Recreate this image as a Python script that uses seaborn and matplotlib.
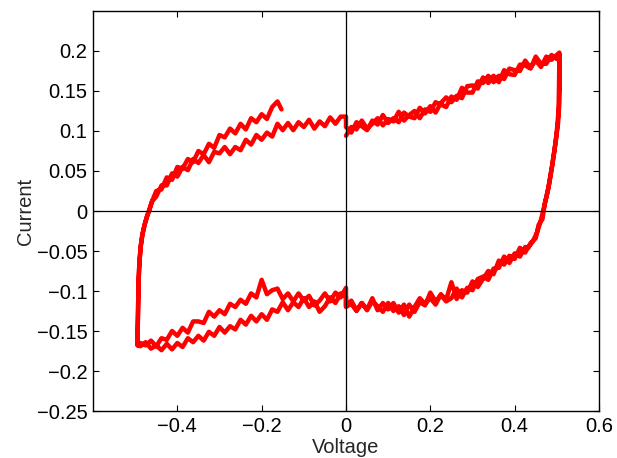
import numpy as np
import pandas as pd
import matplotlib
matplotlib.use("Agg")
import matplotlib.pyplot as plt
import seaborn as sns

# ---- data (cyclic voltammogram, two cycles) ----
# upper-right branch (shared voltage grid)
ur_v = [0.000, 0.0125, 0.025, 0.0375, 0.050, 0.0625, 0.075, 0.0875, 0.100, 0.1125,
        0.125, 0.1375, 0.150, 0.1625, 0.175, 0.1875, 0.200, 0.2125, 0.225, 0.2375,
        0.250, 0.2625, 0.275, 0.2875, 0.300, 0.3125, 0.325, 0.3375, 0.350, 0.3625,
        0.375, 0.3875, 0.400, 0.4125, 0.425, 0.4375, 0.450, 0.4625, 0.475, 0.4875,
        0.500, 0.506]
ur_i1 = [0.094, 0.105, 0.102, 0.113, 0.103, 0.109, 0.116, 0.107, 0.115, 0.112,
         0.124, 0.113, 0.120, 0.125, 0.116, 0.127, 0.124, 0.136, 0.133, 0.130,
         0.143, 0.139, 0.154, 0.148, 0.148, 0.162, 0.160, 0.169, 0.161, 0.169,
         0.165, 0.178, 0.176, 0.175, 0.188, 0.179, 0.188, 0.180, 0.193, 0.189,
         0.195, 0.198]
ur_i2 = [0.105, 0.098, 0.111, 0.106, 0.101, 0.113, 0.108, 0.120, 0.110, 0.116,
         0.111, 0.123, 0.118, 0.116, 0.129, 0.122, 0.131, 0.123, 0.135, 0.142,
         0.136, 0.144, 0.141, 0.156, 0.157, 0.153, 0.167, 0.160, 0.169, 0.161,
         0.176, 0.171, 0.170, 0.183, 0.182, 0.178, 0.193, 0.184, 0.184, 0.195,
         0.190, 0.196]

# steep right-hand descent
rd_v1 = [0.507, 0.507, 0.506, 0.503, 0.498, 0.492, 0.487, 0.482, 0.475, 0.468,
         0.461, 0.453, 0.443, 0.432]
rd_i1 = [0.185, 0.160, 0.135, 0.110, 0.089, 0.068, 0.050, 0.034, 0.017, 0.001,
         -0.014, -0.027, -0.038, -0.046]
rd_v2 = [0.506, 0.505, 0.504, 0.500, 0.495, 0.490, 0.484, 0.479, 0.471, 0.466,
         0.457, 0.450, 0.438, 0.428]
rd_i2 = [0.188, 0.150, 0.125, 0.100, 0.078, 0.060, 0.042, 0.026, 0.008, -0.010,
         -0.017, -0.034, -0.040, -0.049]

# lower-right branch
lr_v = [0.425, 0.4125, 0.400, 0.3875, 0.375, 0.3625, 0.350, 0.3375, 0.325, 0.3125,
        0.300, 0.2875, 0.275, 0.2625, 0.250, 0.2375, 0.225, 0.2125, 0.200, 0.1875,
        0.175, 0.1625, 0.150, 0.1375, 0.125, 0.1125, 0.100, 0.0875, 0.075, 0.0625,
        0.050, 0.0375, 0.025, 0.0125, 0.000]
lr_i1 = [-0.045, -0.057, -0.053, -0.065, -0.057, -0.071, -0.072, -0.086, -0.082, -0.085,
         -0.099, -0.096, -0.108, -0.097, -0.109, -0.113, -0.105, -0.113, -0.102, -0.118,
         -0.114, -0.126, -0.117, -0.130, -0.119, -0.125, -0.115, -0.126, -0.119, -0.113,
         -0.124, -0.115, -0.125, -0.116, -0.120]
lr_i2 = [-0.052, -0.046, -0.060, -0.056, -0.067, -0.062, -0.079, -0.075, -0.085, -0.095,
         -0.088, -0.102, -0.099, -0.110, -0.089, -0.111, -0.104, -0.117, -0.109, -0.116,
         -0.109, -0.120, -0.132, -0.117, -0.127, -0.115, -0.123, -0.115, -0.124, -0.109,
         -0.123, -0.115, -0.124, -0.112, -0.119]

# lower-left branch
ll_v = [0.000, -0.0125, -0.025, -0.0375, -0.050, -0.0625, -0.075, -0.0875, -0.100, -0.1125,
        -0.125, -0.1375, -0.150, -0.1625, -0.175, -0.1875, -0.200, -0.2125, -0.225, -0.2375,
        -0.250, -0.2625, -0.275, -0.2875, -0.300, -0.3125, -0.325, -0.3375, -0.350, -0.3625,
        -0.375, -0.3875, -0.400, -0.4125, -0.425, -0.4375, -0.450, -0.4625, -0.475, -0.4875]
ll_i1 = [-0.096, -0.108, -0.102, -0.113, -0.103, -0.112, -0.118, -0.106, -0.112, -0.103,
         -0.113, -0.103, -0.110, -0.097, -0.099, -0.104, -0.086, -0.108, -0.103, -0.116,
         -0.111, -0.120, -0.116, -0.129, -0.124, -0.132, -0.126, -0.140, -0.138, -0.138,
         -0.152, -0.146, -0.156, -0.150, -0.161, -0.159, -0.169, -0.162, -0.168, -0.165]
ll_i2 = [-0.107, -0.103, -0.115, -0.108, -0.119, -0.126, -0.113, -0.120, -0.109, -0.120,
         -0.114, -0.124, -0.114, -0.126, -0.123, -0.136, -0.129, -0.138, -0.131, -0.142,
         -0.136, -0.148, -0.144, -0.152, -0.145, -0.156, -0.151, -0.162, -0.156, -0.164,
         -0.159, -0.170, -0.165, -0.173, -0.166, -0.174, -0.168, -0.172, -0.164, -0.169]

# steep left-hand rise
rise_v = [-0.494, -0.494, -0.493, -0.492, -0.490, -0.487, -0.483, -0.478, -0.472, -0.466, -0.460]
rise_i = [-0.168, -0.150, -0.120, -0.090, -0.065, -0.045, -0.030, -0.018, -0.007, 0.002, 0.012]

# upper-left branch
ul_v = [-0.450, -0.4375, -0.425, -0.4125, -0.400, -0.3875, -0.375, -0.3625, -0.350, -0.3375,
        -0.325, -0.3125, -0.300, -0.2875, -0.275, -0.2625, -0.250, -0.2375, -0.225, -0.2125,
        -0.200, -0.1875, -0.175, -0.1625, -0.150, -0.1375, -0.125, -0.1125, -0.100, -0.0875,
        -0.075, -0.0625, -0.050, -0.0375, -0.025, -0.0125, 0.000]
ul_i1 = [0.018, 0.032, 0.032, 0.047, 0.043, 0.055, 0.051, 0.065, 0.060, 0.070,
         0.061, 0.074, 0.072, 0.080, 0.071, 0.080, 0.076, 0.089, 0.083, 0.095,
         0.089, 0.098, 0.093, 0.109, 0.101, 0.110, 0.101, 0.111, 0.105, 0.114,
         0.103, 0.112, 0.106, 0.117, 0.109, 0.118, 0.118]
ul_v2 = ul_v[:24] + [-0.153]
ul_i2 = [0.025, 0.027, 0.042, 0.039, 0.055, 0.053, 0.065, 0.061, 0.075, 0.071,
         0.084, 0.079, 0.095, 0.092, 0.103, 0.097, 0.109, 0.102, 0.116, 0.111,
         0.121, 0.115, 0.130, 0.137, 0.127]

x_ticks = [-0.4, -0.2, 0, 0.2, 0.4, 0.6]
x_labels = ["\u22120.4", "\u22120.2", "0", "0.2", "0.4", "0.6"]
y_ticks = [-0.25, -0.2, -0.15, -0.1, -0.05, 0, 0.05, 0.1, 0.15, 0.2]
y_labels = ["\u22120.25", "\u22120.2", "\u22120.15", "\u22120.1", "\u22120.05",
            "0", "0.05", "0.1", "0.15", "0.2"]

# ---- assemble the trace in acquisition order ----
volt = (ur_v + rd_v1 + lr_v + ll_v + rise_v + ul_v +
        ur_v + rd_v2 + lr_v + ll_v + rise_v + ul_v2)
curr = (ur_i1 + rd_i1 + lr_i1 + ll_i1 + rise_i + ul_i1 +
        ur_i2 + rd_i2 + lr_i2 + ll_i2 + rise_i + ul_i2)
df = pd.DataFrame({"Voltage": volt, "Current": curr})

sns.set_style("white")
plt.rcParams["font.family"] = ["Liberation Sans", "DejaVu Sans"]

fig = plt.figure(figsize=(6.17, 4.58), dpi=100)
ax = fig.add_axes([0.1507, 0.1026, 0.8201, 0.8734])

sns.lineplot(data=df, x="Voltage", y="Current", sort=False, estimator=None,
             color="#ff0000", linewidth=3.2, ax=ax, zorder=2)

ax.axhline(0, color="black", linewidth=0.9, zorder=3)
ax.axvline(0, color="black", linewidth=0.9, zorder=3)

ax.set_xlim(-0.6, 0.6)
ax.set_ylim(-0.25, 0.25)
ax.set_xticks(x_ticks)
ax.set_xticklabels(x_labels)
ax.set_yticks(y_ticks)
ax.set_yticklabels(y_labels)

ax.tick_params(direction="in", length=4, width=0.8, top=True, right=True,
               bottom=True, left=True, labelsize=14.5, colors="black", pad=4)
for s in ax.spines.values():
    s.set_visible(True)
    s.set_color("black")
    s.set_linewidth(1.0)

ax.set_xlabel("Voltage", fontsize=14.5, labelpad=2)
ax.set_ylabel("Current", fontsize=14.5, labelpad=1)

fig.savefig("out.png", dpi=100)
